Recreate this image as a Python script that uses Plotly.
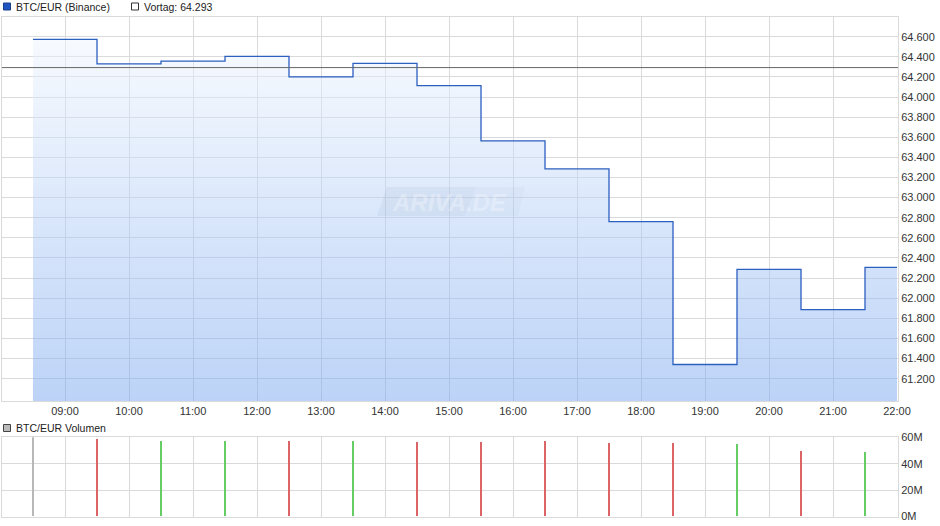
import plotly.graph_objects as go

# ---------------- data ----------------
day = "2024-03-19"
step_times = ["08:30", "09:30", "10:30", "11:30", "12:30", "13:30", "14:30",
              "15:30", "16:30", "17:30", "18:30", "19:30", "20:30", "21:30"]
close_values = [64574, 64329, 64358, 64405, 64200, 64334, 64114,
                63564, 63285, 62761, 61341, 62287, 61886, 62307]
end_time = "22:00"
prev_close = 64293  # Vortag

volume_millions = [61.0, 58.7, 57.2, 57.2, 57.2, 57.2, 56.5,
                   56.5, 57.2, 55.7, 55.7, 55.0, 49.7, 48.9]
volume_dirs = ["flat", "down", "up", "up", "down", "up", "down",
               "down", "down", "down", "down", "up", "down", "up"]

price_ticks = [61200, 61400, 61600, 61800, 62000, 62200, 62400, 62600, 62800,
               63000, 63200, 63400, 63600, 63800, 64000, 64200, 64400, 64600]
hour_ticks = ["09:00", "10:00", "11:00", "12:00", "13:00", "14:00", "15:00",
              "16:00", "17:00", "18:00", "19:00", "20:00", "21:00", "22:00"]
vol_ticks = [0, 20, 40, 60]
vol_tick_labels = ["0M", "20M", "40M", "60M"]

legend_main = "BTC/EUR (Binance)"
legend_prev = "Vortag: 64.293"
legend_vol = "BTC/EUR Volumen"

# ---------------- styling ----------------
W, H = 940, 526
FONT = "Liberation Sans, Arial, sans-serif"
GRID = "#dadada"
LINE_BLUE = "#2b5fc0"
dir_colors = {"flat": "#b8b8b8", "down": "#dd6464", "up": "#66cc66"}

def ts(t):
    return f"{day} {t}:00"

x_step = [ts(t) for t in step_times] + [ts(end_time)]
y_step = close_values + [close_values[-1]]

x_range = [f"{day} 08:00:56", f"{day} 22:00:56"]
y_range = [60978, 64796]

def px_x(p):
    return p / W

def px_y(p):
    return 1 - p / H

main_dom = [px_y(401), px_y(17)]
vol_dom = [px_y(516.5), px_y(437.3)]
x_dom = [px_x(2), px_x(898)]

fig = go.Figure()

fig.add_trace(go.Scatter(
    x=x_step, y=y_step, mode="lines", line=dict(shape="hv", color=LINE_BLUE, width=1.3),
    fill="tozeroy",
    fillgradient=dict(type="vertical", start=y_range[0], stop=y_range[1],
                      colorscale=[[0, "rgba(121,167,239,0.5)"],
                                  [1, "rgba(246,250,255,0.5)"]]),
    xaxis="x", yaxis="y", showlegend=False, hoverinfo="skip"))

fig.add_trace(go.Bar(
    x=[ts(t) for t in step_times], y=volume_millions,
    marker=dict(color=[dir_colors[d] for d in volume_dirs], line=dict(width=0)),
    width=50000, xaxis="x2", yaxis="y2", showlegend=False, hoverinfo="skip"))

axis_common = dict(showgrid=True, gridcolor=GRID, gridwidth=1, zeroline=False,
                   showline=True, linecolor=GRID, linewidth=1, mirror=True,
                   ticks="", automargin=False,
                   tickfont=dict(family=FONT, size=11, color="#333333"))

fig.update_layout(
    width=W, height=H, margin=dict(l=0, r=0, t=0, b=0),
    template="none", paper_bgcolor="white", plot_bgcolor="white",
    separators=",.",
    bargap=0,
    xaxis=dict(domain=x_dom, type="date", range=x_range, anchor="y",
               tickvals=[ts(t) for t in hour_ticks],
               ticktext=hour_ticks, **axis_common),
    yaxis=dict(domain=main_dom, range=y_range, side="right", anchor="x",
               tickvals=price_ticks, tickformat=",d", **axis_common),
    xaxis2=dict(domain=x_dom, type="date", range=x_range, anchor="y2", matches="x",
                tickvals=[ts(t) for t in hour_ticks], showticklabels=False, **axis_common),
    yaxis2=dict(domain=vol_dom, range=[0, 60], side="right", anchor="x2",
                tickvals=vol_ticks, ticktext=vol_tick_labels, **axis_common),
)

# previous close line
fig.add_shape(type="line", xref="x domain", yref="y", x0=0, x1=1,
              y0=prev_close, y1=prev_close, line=dict(color="#666666", width=1))

# watermark
wm_left = "M {} {} L {} {} L {} {} L {} {} Z".format(
    px_x(377), px_y(216), px_x(387), px_y(187), px_x(476), px_y(187), px_x(465), px_y(216))
wm_right = "M {} {} L {} {} L {} {} L {} {} Z".format(
    px_x(465), px_y(216), px_x(476), px_y(187), px_x(525), px_y(187), px_x(518), px_y(216))
fig.add_shape(type="path", xref="paper", yref="paper", path=wm_left,
              fillcolor="rgba(110,130,170,0.09)", line=dict(width=0), layer="above")
fig.add_shape(type="path", xref="paper", yref="paper", path=wm_right,
              fillcolor="rgba(110,130,170,0.045)", line=dict(width=0), layer="above")
fig.add_annotation(x=px_x(449), y=px_y(202), xref="paper", yref="paper",
                   text="ARIVA.DE", showarrow=False,
                   font=dict(family=FONT, size=24, color="rgba(255,255,255,0.3)",
                             style="italic", weight="bold"))

# legends
def legend_item(x_px, y_px, fill, border, text):
    fig.add_shape(type="rect", xref="paper", yref="paper",
                  x0=px_x(x_px), x1=px_x(x_px + 7), y0=px_y(y_px + 3.5), y1=px_y(y_px - 3.5),
                  fillcolor=fill, line=dict(color=border, width=1))
    fig.add_annotation(x=px_x(x_px + 10), y=px_y(y_px), xref="paper", yref="paper",
                       text=text, showarrow=False, xanchor="left", yanchor="middle",
                       font=dict(family=FONT, size=10.5, color="#222222"))

legend_item(3.5, 6.5, "#1f55c0", "#1a3f8a", legend_main)
legend_item(131.5, 6.5, "white", "#333333", legend_prev)
legend_item(3.5, 428, "#bbbbbb", "#444444", legend_vol)

fig.write_html("out.html", config={"displayModeBar": False},
               post_script="document.body.style.margin='0';document.body.style.padding='0';")
